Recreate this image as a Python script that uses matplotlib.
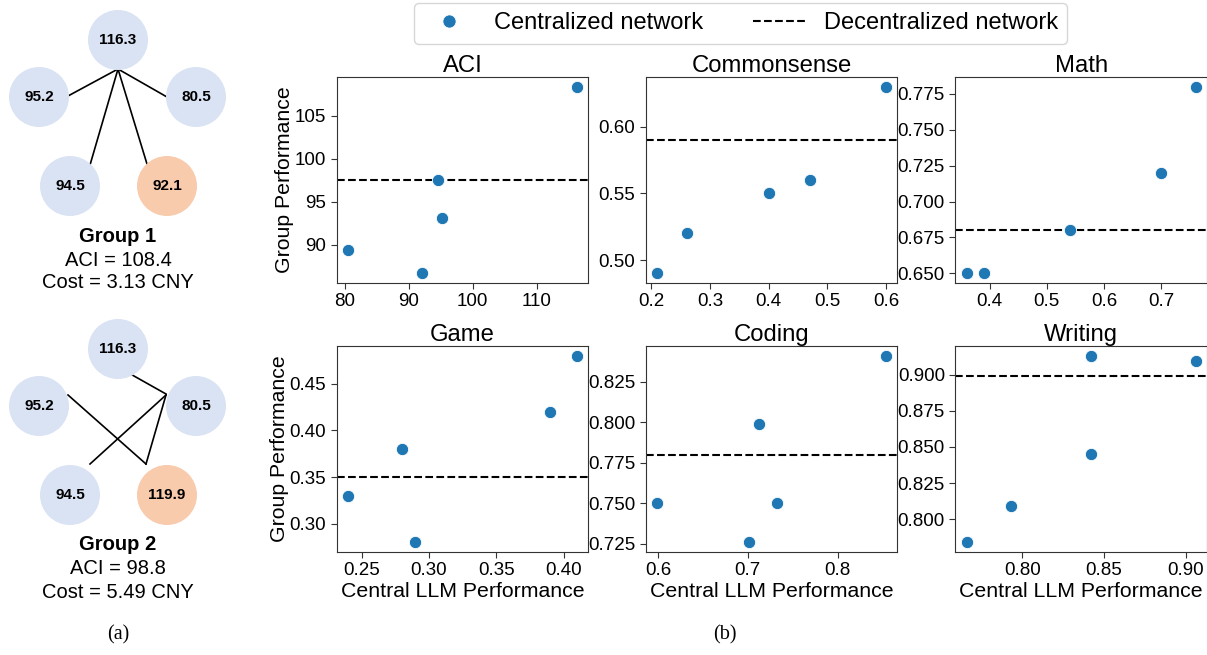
import matplotlib
matplotlib.use("Agg")
import matplotlib.pyplot as plt
from matplotlib.patches import Circle
from matplotlib.lines import Line2D
from matplotlib.ticker import MultipleLocator

plt.rcParams['font.family'] = ['Liberation Sans', 'DejaVu Sans']

# --- DATA ---
tasks = ["ACI", "Commonsense", "Math", "Game", "Coding", "Writing"]
central_perf = {
    "ACI": [80.5, 92.1, 94.5, 95.2, 116.3],
    "Commonsense": [0.21, 0.26, 0.40, 0.47, 0.60],
    "Math": [0.36, 0.39, 0.54, 0.70, 0.76],
    "Game": [0.24, 0.28, 0.29, 0.39, 0.41],
    "Coding": [0.599, 0.701, 0.713, 0.733, 0.854],
    "Writing": [0.766, 0.793, 0.842, 0.842, 0.906],
}
group_perf = {
    "ACI": [89.4, 86.7, 97.5, 93.1, 108.4],
    "Commonsense": [0.49, 0.52, 0.55, 0.56, 0.63],
    "Math": [0.65, 0.65, 0.68, 0.72, 0.78],
    "Game": [0.33, 0.38, 0.28, 0.42, 0.48],
    "Coding": [0.750, 0.726, 0.799, 0.750, 0.841],
    "Writing": [0.784, 0.809, 0.845, 0.913, 0.909],
}
decentral_perf = {
    "ACI": 97.5, "Commonsense": 0.59, "Math": 0.68,
    "Game": 0.35, "Coding": 0.780, "Writing": 0.899,
}
# tick spacing per panel (x, y)
tick_steps = {
    "ACI": (10, 5), "Commonsense": (0.1, 0.05), "Math": (0.1, 0.025),
    "Game": (0.05, 0.05), "Coding": (0.1, 0.025), "Writing": (0.05, 0.025),
}

# network diagrams (a)
node_vals_g1 = ["116.3", "95.2", "80.5", "94.5", "92.1"]
node_vals_g2 = ["116.3", "95.2", "80.5", "94.5", "119.9"]
central_idx = 4
group_info = [("Group 1", "ACI = 108.4", "Cost = 3.13 CNY"),
              ("Group 2", "ACI = 98.8", "Cost = 5.49 CNY")]

BLUE = "#1f77b4"
NODE_BLUE = "#dae3f3"
NODE_ORANGE = "#f8cbad"

fig = plt.figure(figsize=(12.07, 6.55), dpi=100)

# --- (a) network sketches, drawn in pixel units ---
axa = fig.add_axes([0, 0, 240 / 1207, 1])
axa.set_xlim(0, 240)
axa.set_ylim(655, 0)
axa.axis('off')

node_xy = [(118, 40), (39, 97), (196, 97), (70, 186), (167, 186)]
r = 29.3

def draw_group(ax, vals, dy, edges, info):
    for (x0, y0, x1, y1) in edges:
        ax.plot([x0, x1], [y0 + dy, y1 + dy], color='black', lw=1.2, zorder=1)
    for i, (x, y) in enumerate(node_xy):
        col = NODE_ORANGE if i == central_idx else NODE_BLUE
        ax.add_patch(Circle((x, y + dy), r, color=col, zorder=2))
        ax.text(x, y + dy, vals[i], ha='center', va='center',
                fontsize=11, fontweight='bold', zorder=3)
    ax.text(118, 236 + dy, info[0], ha='center', va='center',
            fontsize=14.5, fontweight='bold')
    ax.text(118, 260 + dy, info[1], ha='center', va='center', fontsize=14.5)
    ax.text(118, 283 + dy, info[2], ha='center', va='center', fontsize=14.5)

edges_g1 = [(118, 69, 68, 96), (118, 69, 167, 97),
            (118, 69, 90, 165), (118, 69, 147, 164)]
edges_g2 = [(118, 58, 166, 85), (68, 86, 146, 155),
            (166, 86, 90, 155), (166, 86, 146, 155)]
draw_group(axa, node_vals_g1, 0, edges_g1, group_info[0])
draw_group(axa, node_vals_g2, 309, edges_g2, group_info[1])
axa.text(118, 635, "(a)", ha='center', va='center', fontsize=14.5,
         family='Liberation Serif')

# --- (b) scatter grid ---
lefts = [0.279, 0.535, 0.7915]
bottoms = [0.5684, 0.1577]
w, h = 0.2085, 0.3135

for k, task in enumerate(tasks):
    row, col = divmod(k, 3)
    ax = fig.add_axes([lefts[col], bottoms[row], w, h])
    ax.scatter(central_perf[task], group_perf[task], s=78, color=BLUE,
               edgecolor='white', linewidth=0.6, zorder=3)
    ax.axhline(decentral_perf[task], color='black', ls='--', lw=1.5, zorder=2)
    ax.xaxis.set_major_locator(MultipleLocator(tick_steps[task][0]))
    ax.yaxis.set_major_locator(MultipleLocator(tick_steps[task][1]))
    ax.set_title(task, fontsize=17.2, pad=4)
    ax.tick_params(labelsize=13.5, color='#333333', length=4)
    for sp in ax.spines.values():
        sp.set_color('#333333')
    if col == 0:
        ax.set_ylabel("Group Performance", fontsize=15.3, labelpad=0.5)
    if row == 1:
        ax.set_xlabel("Central LLM Performance", fontsize=15.3, labelpad=2)

fig.text(725 / 1207, 1 - 635 / 655, "(b)", ha='center', va='center',
         fontsize=14.5, family='Liberation Serif')

handles = [Line2D([], [], marker='o', ls='none', color=BLUE, markersize=9.5,
                  markeredgecolor='white', markeredgewidth=0.6),
           Line2D([], [], color='black', ls='--', lw=1.5)]
fig.legend(handles, ["Centralized network", "Decentralized network"],
           loc='upper center', bbox_to_anchor=(740.5 / 1207, 1 - 3 / 655),
           ncol=2, fontsize=17, frameon=True, columnspacing=2.1,
           handlelength=2.2, handletextpad=0.8, borderpad=0.4,
           borderaxespad=0)

fig.savefig("out.png", dpi=100)
